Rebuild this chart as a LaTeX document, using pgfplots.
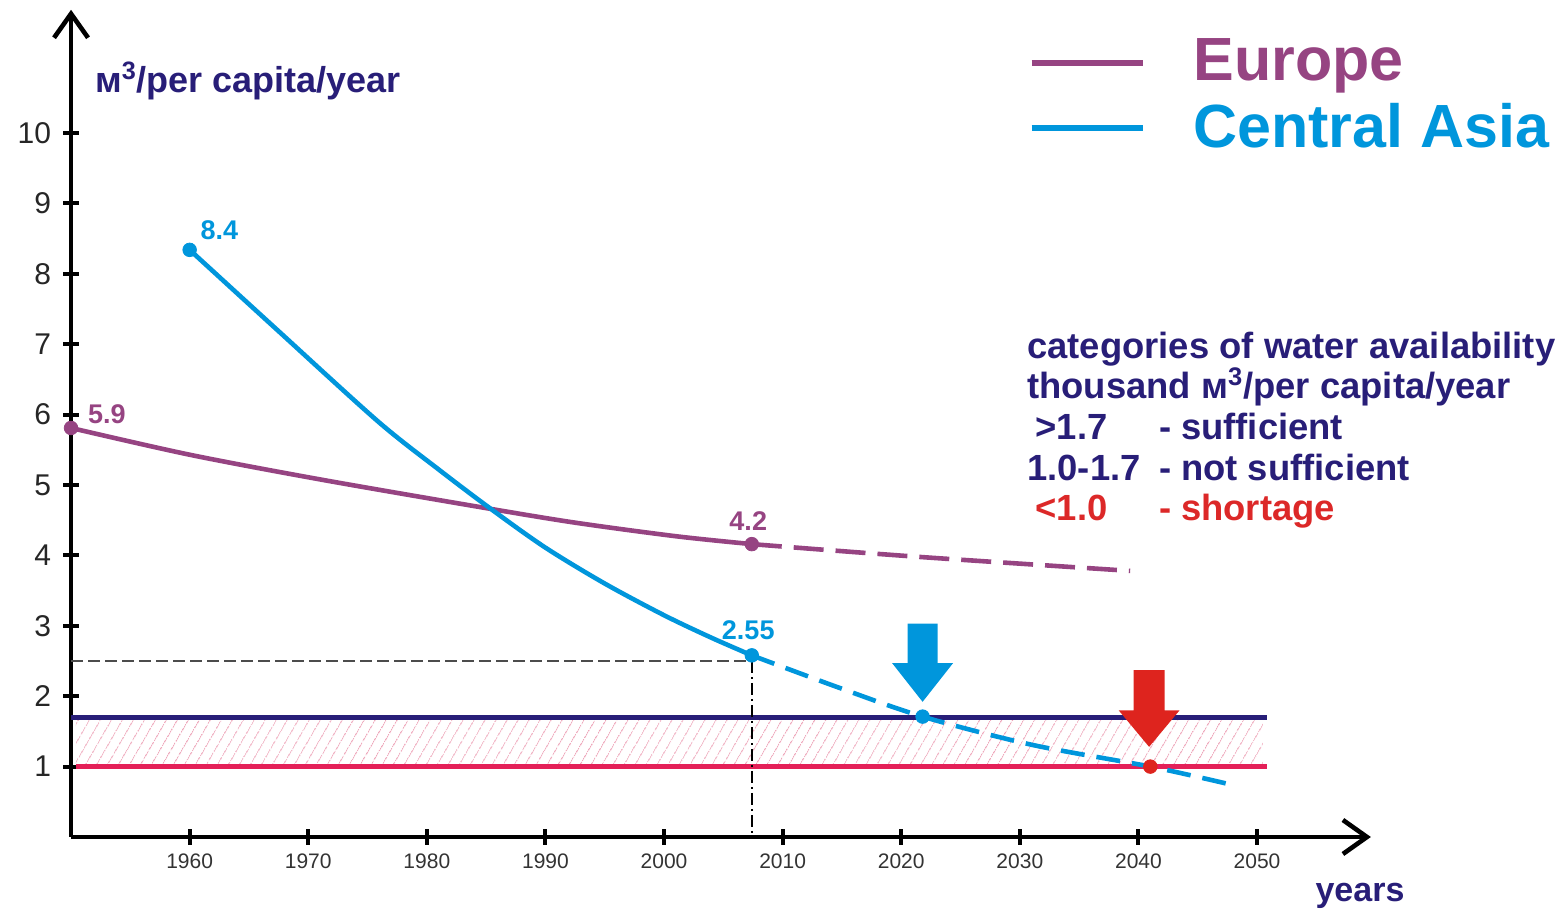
\documentclass[border=0pt]{standalone}
\usepackage{fontspec}
\setmainfont{Liberation Sans}
\usepackage{pgfplots}
\pgfplotsset{compat=1.18}
\usetikzlibrary{arrows.meta,patterns.meta}

\definecolor{europe}{RGB}{150,68,130}
\definecolor{asia}{RGB}{0,150,220}
\definecolor{navy}{RGB}{40,30,120}
\definecolor{redline}{RGB}{228,32,88}
\definecolor{redtxt}{RGB}{220,40,40}
\definecolor{redarrow}{RGB}{222,36,30}
\definecolor{hatch}{RGB}{238,165,185}

\begin{document}
\begin{tikzpicture}
\begin{axis}[
  x=5.93bp, y=35.2bp,
  xmin=1950, xmax=2059.6, ymin=0, ymax=11.75,
  axis lines=left,
  axis line style={line width=2.3bp, -{Straight Barb[length=12bp,width=17bp]}},
  xtick={1960,1970,...,2050}, ytick={1,...,10},
  tick align=center,
  major tick length=8bp,
  every tick/.style={line width=2bp, black},
  xticklabel style={font=\fontsize{10.5bp}{12bp}\selectfont, text=black!80, yshift=-1bp},
  yticklabel style={font=\fontsize{15bp}{17bp}\selectfont, text=black!85, xshift=-2.5bp},
  /pgf/number format/assume math mode=true,
  /pgf/number format/1000 sep={},
  clip=false,
]
% hatched band
\addplot[draw=none, pattern={Lines[angle=60,distance=5.2bp,line width=0.45bp]}, pattern color=hatch, forget plot]
  coordinates {(1950.4,1) (2050.5,1) (2050.5,1.7) (1950.4,1.7)} -- cycle;
% threshold lines
\addplot[navy, line width=2.2bp, forget plot] coordinates {(1950,1.7) (2050.8,1.7)};
\addplot[redline, line width=2.2bp, forget plot] coordinates {(1950.4,1.0) (2050.8,1.0)};
% reference lines for 2.55
\addplot[black!70, line width=0.8bp, dash pattern=on 6bp off 2.5bp, forget plot] coordinates {(1950,2.5) (2007.4,2.5)};
\addplot[black, line width=0.7bp, dash pattern=on 6bp off 2bp on 1bp off 2bp, forget plot] coordinates {(2007.4,2.5) (2007.4,0)};
% Europe
\addplot[europe, line width=2.3bp, smooth, tension=0.5, forget plot] coordinates {
  (1950,5.81) (1960,5.43) (1971.3,5.07) (1985.4,4.66) (1992.7,4.46) (2001.1,4.27) (2007.4,4.16)};
\addplot[europe, line width=2.3bp, smooth, tension=0.5, dash pattern=on 15bp off 6bp, forget plot] coordinates {
  (2007.4,4.16) (2015,4.06) (2023.1,3.96) (2039.3,3.78)};
% Central Asia
\addplot[asia, line width=2.3bp, smooth, tension=0.5, forget plot] coordinates {
  (1960,8.34) (1967.4,7.20) (1975.9,5.90) (1981,5.22) (1985.4,4.66) (1990,4.11) (1995,3.60) (2000,3.15) (2004,2.83) (2007.4,2.58)};
\addplot[asia, line width=2.3bp, smooth, tension=0.5, dash pattern=on 12bp off 6bp, forget plot] coordinates {
  (2007.4,2.58) (2014.6,2.13) (2021.8,1.71) (2031,1.31) (2041,1.0) (2047.4,0.76)};
% arrows
\addplot[fill=asia, draw=none, forget plot] coordinates {
  (2020.54,3.03) (2023.06,3.03) (2023.06,2.47) (2024.37,2.47) (2021.8,1.92) (2019.23,2.47) (2020.54,2.47)} -- cycle;
\addplot[fill=redarrow, draw=none, forget plot] coordinates {
  (2039.59,2.37) (2042.21,2.37) (2042.21,1.80) (2043.47,1.80) (2040.9,1.28) (2038.33,1.80) (2039.59,1.80)} -- cycle;
% dots
\addplot[only marks, mark=*, mark size=3.4bp, europe, forget plot] coordinates {(1950,5.81) (2007.4,4.16)};
\addplot[only marks, mark=*, mark size=3.4bp, asia, forget plot] coordinates {(1960,8.34) (2007.4,2.58) (2021.8,1.71)};
\addplot[only marks, mark=*, mark size=3.4bp, redarrow, forget plot] coordinates {(2041,1.0)};
% data labels
\node[anchor=base west, inner sep=0, text=asia, font=\bfseries\fontsize{13.5bp}{15bp}\selectfont] at (axis cs:1960.9,8.48) {8.4};
\node[anchor=base west, inner sep=0, text=europe, font=\bfseries\fontsize{13.5bp}{15bp}\selectfont] at (axis cs:1951.4,5.87) {5.9};
\node[anchor=base, inner sep=0, text=europe, font=\bfseries\fontsize{13.5bp}{15bp}\selectfont] at (axis cs:2007.1,4.35) {4.2};
\node[anchor=base, inner sep=0, text=asia, font=\bfseries\fontsize{13.5bp}{15bp}\selectfont] at (axis cs:2007.1,2.80) {2.55};
% axis titles
\node[anchor=base west, inner sep=0, text=navy, font=\bfseries\fontsize{18bp}{21bp}\selectfont] at (axis cs:1952.0,10.58) {м\textsuperscript{3}/per capita/year};
\node[anchor=base west, inner sep=0, text=navy, font=\bfseries\fontsize{17bp}{20bp}\selectfont] at (axis cs:2054.9,-0.92) {years};
% legend
\draw[europe, line width=3bp] (axis cs:2031.0,11.0) -- (axis cs:2040.4,11.0);
\draw[asia, line width=3bp] (axis cs:2031.0,10.07) -- (axis cs:2040.4,10.07);
\node[anchor=base west, inner sep=0, text=europe, font=\bfseries\fontsize{30.5bp}{34bp}\selectfont] at (axis cs:2044.6,10.74) {Europe};
\node[anchor=base west, inner sep=0, text=asia, font=\bfseries\fontsize{30.5bp}{34bp}\selectfont] at (axis cs:2044.6,9.79) {Central Asia};
% categories
\begin{scope}[every node/.style={anchor=base west, inner sep=0, font=\bfseries\fontsize{18.2bp}{21bp}\selectfont}]
\node[text=navy] at (axis cs:2030.6,6.80) {categories of water availability};
\node[text=navy] at (axis cs:2030.6,6.23) {thousand м\textsuperscript{3}/per capita/year};
\node[text=navy] at (axis cs:2031.3,5.65) {>1.7};
\node[text=navy] at (axis cs:2041.7,5.65) {- sufficient};
\node[text=navy] at (axis cs:2030.6,5.07) {1.0-1.7};
\node[text=navy] at (axis cs:2041.7,5.07) {- not sufficient};
\node[text=redtxt] at (axis cs:2031.3,4.49) {<1.0};
\node[text=redtxt] at (axis cs:2041.7,4.49) {- shortage};
\end{scope}
\coordinate (LL) at (axis cs:1944.01,-1.037);
\coordinate (UR) at (axis cs:2076.05,11.889);
\end{axis}
\pgfresetboundingbox
\path[use as bounding box] (LL) rectangle (UR);
\end{tikzpicture}
\end{document}
